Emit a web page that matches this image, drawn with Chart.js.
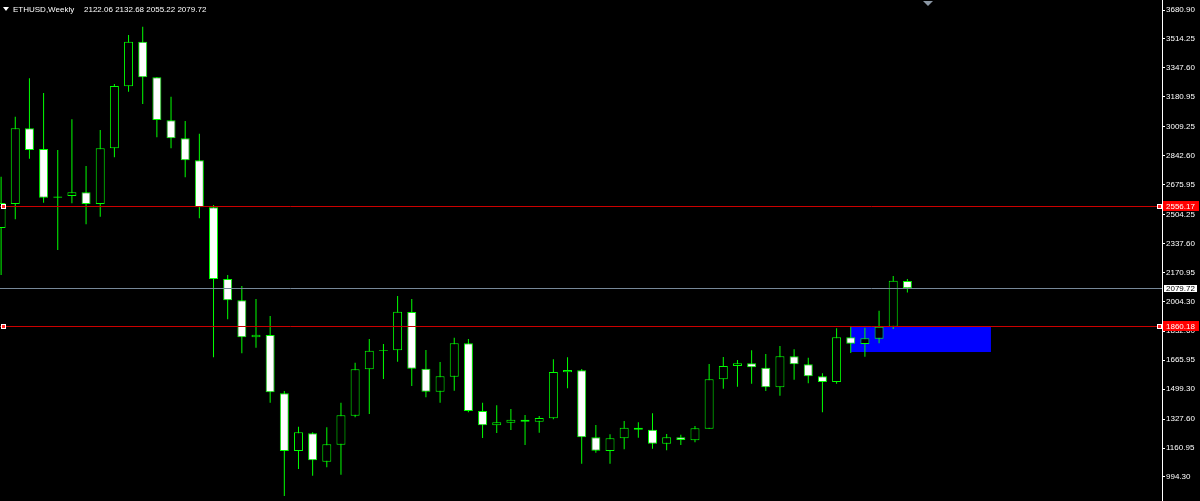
<!DOCTYPE html>
<html>
<head>
<meta charset="utf-8">
<script src="https://cdn.jsdelivr.net/npm/chart.js@4.4.1/dist/chart.umd.min.js"></script>
<style>
  html, body { margin: 0; padding: 0; background: #000; }
  #wrap { position: relative; width: 1200px; height: 501px; }
</style>
</head>
<body>
<div id="wrap"><canvas id="chart"></canvas></div>
<script>
// weekly ETHUSD candles, oldest first (first one is cut by the left edge)
const opens = [
  2426.7, 2564.8, 3000.3, 2881.2, 2601.0, 2610.8, 2632.1, 2564.8, 2885.2, 3241.9,
  3498.5, 3293.7, 3046.3, 2942.8, 2816.2, 2545.8, 2133.3, 2010.8, 1797.9, 1811.1,
  1475.7, 1143.8, 1245.6, 1082.2, 1180.0, 1346.9, 1613.8, 1720.8, 1723.1, 1943.5,
  1617.3, 1485.0, 1571.2, 1763.4, 1373.9, 1291.6, 1306.6, 1323.9, 1312.4, 1331.9,
  1596.6, 1608.1, 1222.6, 1143.8, 1216.9, 1277.8, 1266.3, 1185.8, 1222.6, 1205.4,
  1272.1, 1556.3, 1632.8, 1648.3, 1623.0, 1510.3, 1688.6, 1642.6, 1573.5, 1540.8,
  1797.9, 1759.4, 1789.9, 1858.9, 2122.06
];
const highs = [
  2721.8, 3067.0, 3287.9, 3203.4, 2875.5, 3052.1, 2783.4, 2990.5, 3255.1, 3537.0,
  3584.8, 3295.4, 3182.1, 3042.3, 2969.2, 2559.0, 2156.3, 2093.0, 2018.3, 1920.5,
  1489.0, 1283.6, 1251.4, 1280.1, 1421.7, 1651.8, 1788.1, 1759.4, 2035.5, 2018.3,
  1724.8, 1655.8, 1795.6, 1788.1, 1421.7, 1406.7, 1385.4, 1350.9, 1345.2, 1671.4,
  1682.9, 1615.5, 1293.4, 1239.9, 1316.4, 1308.9, 1360.7, 1241.6, 1237.6, 1287.6,
  1644.3, 1684.6, 1667.3, 1723.1, 1701.8, 1747.9, 1728.9, 1680.6, 1590.8, 1849.7,
  1861.2, 1853.1, 1951.0, 2150.6, 2132.68
];
const lows = [
  2156.3, 2476.8, 2825.4, 2572.3, 2300.2, 2568.8, 2448.0, 2491.7, 2833.5, 3210.8,
  3140.1, 2948.5, 2885.2, 2718.4, 2482.5, 1682.9, 1901.5, 1705.9, 1738.1, 1421.7,
  884.9, 1040.2, 1001.7, 1050.0, 1007.5, 1337.7, 1356.7, 1558.0, 1657.5, 1517.7,
  1452.7, 1421.7, 1490.7, 1366.4, 1218.6, 1247.4, 1264.6, 1178.3, 1249.1, 1326.2,
  1504.5, 1070.7, 1134.0, 1070.7, 1153.6, 1220.3, 1157.0, 1147.8, 1178.3, 1193.9,
  1272.1, 1502.2, 1513.7, 1531.0, 1489.0, 1461.9, 1554.0, 1533.3, 1366.4, 1531.0,
  1707.6, 1686.3, 1763.4, 1845.7, 2055.22
];
const closes = [
  2570.5, 3000.3, 2875.5, 2601.0, 2607.9, 2632.1, 2564.8, 2885.2, 3243.6, 3498.5,
  3293.7, 3048.0, 2942.8, 2816.2, 2545.8, 2133.3, 2010.8, 1797.9, 1812.9, 1481.5,
  1143.8, 1251.4, 1090.3, 1182.3, 1349.2, 1613.8, 1720.8, 1724.8, 1945.2, 1617.3,
  1485.0, 1573.5, 1763.4, 1373.9, 1291.6, 1308.9, 1323.9, 1312.4, 1333.6, 1598.3,
  1609.8, 1222.6, 1145.5, 1216.9, 1277.8, 1266.3, 1185.8, 1222.6, 1207.1, 1274.4,
  1556.3, 1632.8, 1648.3, 1625.3, 1510.3, 1688.6, 1642.6, 1573.5, 1540.8, 1797.9,
  1761.1, 1792.2, 1858.9, 2124.0, 2079.72
];

// price scale labels as shown on the right
const yTicks = [3680.90, 3514.25, 3347.60, 3180.95, 3009.25, 2842.60, 2675.95, 2504.25,
  2337.60, 2170.95, 2004.30, 1832.60, 1665.95, 1499.30, 1327.60, 1160.95, 994.30];

// horizontal levels
const redLevels = [2556.17, 1860.18];
const bidPrice = 2079.72;
// demand zone: [from bar, to bar, top price, bottom price]
const zone = [60, 69.9, 1860.18, 1713.3];

const symbolText = 'ETHUSD,Weekly';
const ohlcText = '2122.06 2132.68 2055.22 2079.72';

const LIME = '#00ff00';
const FONT = "'Liberation Sans', Arial, sans-serif";

const wickData = highs.map((h, i) => ({ x: i, y: [lows[i], h] }));
const bodyData = opens.map((o, i) => ({ x: i, y: [o, closes[i]] }));
const bodyFill = opens.map((o, i) => closes[i] > o ? '#000000' : '#ffffff');

const overlay = {
  id: 'overlay',
  beforeDatasetsDraw(chart) {
    const { ctx, scales: { x, y } } = chart;
    ctx.save();
    ctx.fillStyle = '#0000ff';
    const x1 = x.getPixelForValue(zone[0]);
    const x2 = x.getPixelForValue(zone[1]);
    const y1 = y.getPixelForValue(zone[2]);
    const y2 = y.getPixelForValue(zone[3]);
    ctx.fillRect(x1, y1, x2 - x1, y2 - y1);
    ctx.restore();
  },
  afterDatasetsDraw(chart) {
    const { ctx, chartArea: a, scales: { y } } = chart;
    ctx.save();
    ctx.lineWidth = 1;
    // bid line
    let py = Math.round(y.getPixelForValue(bidPrice)) + 0.5;
    ctx.strokeStyle = '#778899';
    ctx.beginPath(); ctx.moveTo(a.left, py); ctx.lineTo(a.right, py); ctx.stroke();
    // red lines with selection markers
    redLevels.forEach(v => {
      const ly = Math.round(y.getPixelForValue(v)) + 0.5;
      ctx.strokeStyle = '#cc0000';
      ctx.beginPath(); ctx.moveTo(a.left, ly); ctx.lineTo(a.right, ly); ctx.stroke();
      [a.left + 3, a.right - 3].forEach(mx => {
        ctx.fillStyle = '#ffffff';
        ctx.fillRect(Math.round(mx) - 2, ly - 2.5, 5, 5);
        ctx.fillStyle = '#ff2020';
        ctx.fillRect(Math.round(mx) - 1, ly - 1.5, 3, 3);
      });
    });
    ctx.restore();
  },
  afterDraw(chart) {
    const { ctx, chartArea: a, scales: { y } } = chart;
    ctx.save();
    ctx.font = '8px ' + FONT;
    ctx.textBaseline = 'middle';
    ctx.textAlign = 'left';

    // price labels on the axis
    redLevels.forEach(v => {
      const ly = Math.round(y.getPixelForValue(v));
      ctx.fillStyle = '#ff0000';
      ctx.fillRect(a.right + 1, ly - 5, 36, 10);
      ctx.fillStyle = '#ffffff';
      ctx.fillText(v.toFixed(2), a.right + 4, ly + 0.5);
    });
    const by = Math.round(y.getPixelForValue(bidPrice));
    ctx.fillStyle = '#ffffff';
    ctx.fillRect(a.right + 1, by - 4, 35, 9);
    ctx.strokeStyle = '#000000';
    ctx.strokeRect(a.right + 1.5, by - 3.5, 34, 8);
    ctx.fillStyle = '#000000';
    ctx.fillText(bidPrice.toFixed(2), a.right + 4, by + 0.5);

    // header
    ctx.fillStyle = '#ffffff';
    ctx.beginPath();
    ctx.moveTo(3, 7); ctx.lineTo(9, 7); ctx.lineTo(6, 11); ctx.closePath();
    ctx.fill();
    ctx.fillText(symbolText, 13, 9.5);
    ctx.fillText(ohlcText, 84, 9.5);

    // chart shift marker
    ctx.fillStyle = '#8a96a3';
    ctx.beginPath();
    ctx.moveTo(923, 1); ctx.lineTo(933, 1); ctx.lineTo(928, 6); ctx.closePath();
    ctx.fill();
    ctx.restore();
  }
};

new Chart(document.getElementById('chart'), {
  type: 'bar',
  data: {
    datasets: [
      {
        label: 'body',
        data: bodyData,
        backgroundColor: bodyFill,
        borderColor: LIME,
        borderWidth: 1,
        borderSkipped: false,
        barThickness: 9,
        grouped: false,
        inflateAmount: 0,
        order: 0
      },
      {
        label: 'wick',
        data: wickData,
        backgroundColor: LIME,
        borderWidth: 0,
        barThickness: 1,
        grouped: false,
        inflateAmount: 0,
        order: 1
      }
    ]
  },
  options: {
    responsive: true,
    maintainAspectRatio: false,
    animation: false,
    layout: { padding: 0 },
    plugins: {
      legend: { display: false },
      tooltip: { enabled: false },
      title: { display: false }
    },
    scales: {
      x: {
        type: 'linear',
        display: false,
        offset: false,
        min: -0.078,
        max: 81.98
      },
      y: {
        type: 'linear',
        position: 'right',
        min: 856.2,
        max: 3738.43,
        afterBuildTicks: s => { s.ticks = yTicks.map(v => ({ value: v })); },
        afterFit: s => { s.width = 38; s.paddingTop = 0; s.paddingBottom = 0; },
        border: { display: true, color: '#ffffff', width: 1 },
        grid: { drawOnChartArea: false, drawTicks: true, tickLength: 3, color: '#ffffff' },
        ticks: {
          autoSkip: false,
          color: '#ffffff',
          padding: 1,
          font: { family: FONT, size: 8 },
          callback: v => Number(v).toFixed(2)
        }
      }
    }
  },
  plugins: [overlay]
});
</script>
</body>
</html>
